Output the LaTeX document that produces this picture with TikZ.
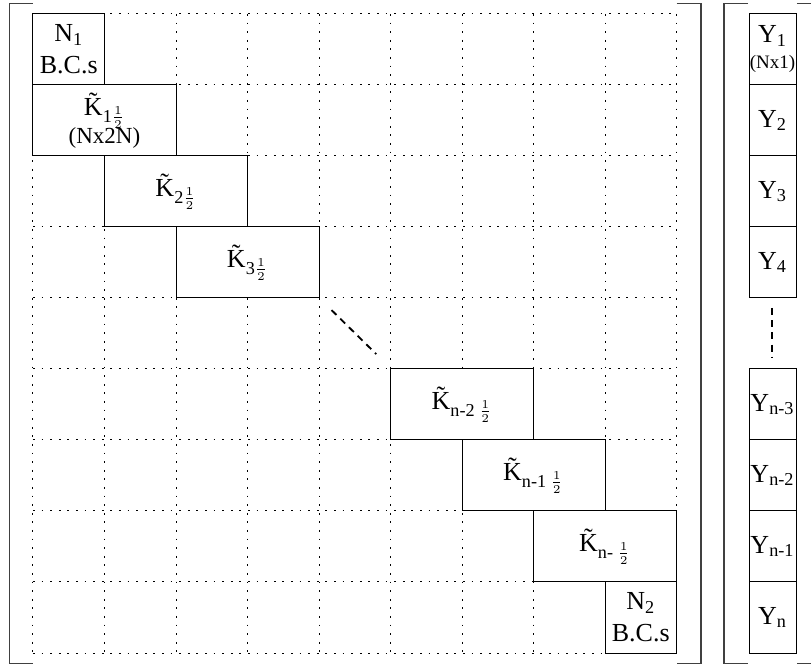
\documentclass[tikz,border=0pt]{standalone}
\usepackage{fontspec}
\setmainfont{Liberation Serif}

\newcommand{\Kt}[1]{\~{K}\textsubscript{#1}}
\newcommand{\hf}{$\frac{1}{2}$}

\begin{document}
\begin{tikzpicture}[x=35.75pt,y=-35.5pt,
        cell/.style={draw,fill=white,line width=0.5pt,inner sep=0pt,outer sep=0pt,anchor=north west,
            align=center,minimum height=35.5pt,font=\fontsize{13}{16}\selectfont},
        one/.style={cell,minimum width=35.75pt},
        two/.style={cell,minimum width=71.5pt},
        vec/.style={cell,minimum width=23.5pt},
        gridline/.style={line width=0.5pt,dash pattern=on 0.9pt off 3.4pt},
        bracket/.style={line width=0.65pt,black!75},
        etc/.style={line width=0.9pt,dash pattern=on 3.5pt off 2.6pt}]
        \useasboundingbox (-0.4615,-0.197) rectangle (10.881,9.197);
        \clip (-0.4615,-0.197) rectangle (10.881,9.197);

        % draw the dotted grid
        \foreach \i in {0,...,9} {
                \draw[gridline] (\i,0) -- (\i,9);
                \draw[gridline] (0,\i) -- (9,\i);
        }

        % draw the brackets
        \draw[bracket] (0,-0.148) -- (-0.329,-0.148) -- (-0.329,9.148) -- (0,9.148);
        \draw[bracket] (9,-0.148) -- (9.343,-0.148) -- (9.343,9.148) -- (9,9.148);
        \draw[bracket] (10,-0.148) -- (9.664,-0.148) -- (9.664,9.148) -- (10,9.148);
        \draw[bracket] (10.685,-0.148) -- (11.3,-0.148) -- (11.3,9.148) -- (10.685,9.148);

        % band blocks
        \node[two] (k1) at (0,1) {\Kt{1\hf}\\[-2pt]{\fontsize{11.5}{13}\selectfont(Nx2N)}};
        \foreach \c/\r/\name/\txt in {
            1/2/k2/{\Kt{2\hf}},
            2/3/k3/{\Kt{3\hf}},
            5/5/kn2/{\Kt{n-2 \hf}},
            6/6/kn1/{\Kt{n-1 \hf}},
            7/7/kn/{\Kt{n- \hf}}}
                \node[two] (\name) at (\c,\r) {\txt};

        % boundary blocks
        \node[one] (n1) at (0,0) {N\textsubscript{1}\\B.C.s};
        \node[one] (n2) at (8,8) {N\textsubscript{2}\\B.C.s};

        % right hand side vector
        \node[vec] (y1) at (10.014,0) {Y\textsubscript{1}\\[-3pt]{\fontsize{9.5}{11}\selectfont(Nx1)}};
        \foreach \r/\name/\txt in {
            1/y2/{Y\textsubscript{2}},
            2/y3/{Y\textsubscript{3}},
            3/y4/{Y\textsubscript{4}},
            5/yn3/{Y\textsubscript{n-3}},
            6/yn2/{Y\textsubscript{n-2}},
            7/yn1/{Y\textsubscript{n-1}},
            8/yn/{Y\textsubscript{n}}}
                \node[vec] (\name) at (10.014,\r) {\txt};

        % dots in between
        \coordinate (d1) at (4.175,4.17);
        \coordinate (d2) at (4.8,4.79);
        \coordinate (v1) at (10.336,4.14);
        \coordinate (v2) at (10.336,4.83);
        \draw[etc] (d1) -- (d2);
        \draw[etc] (v1) -- (v2);
\end{tikzpicture}
\end{document}
